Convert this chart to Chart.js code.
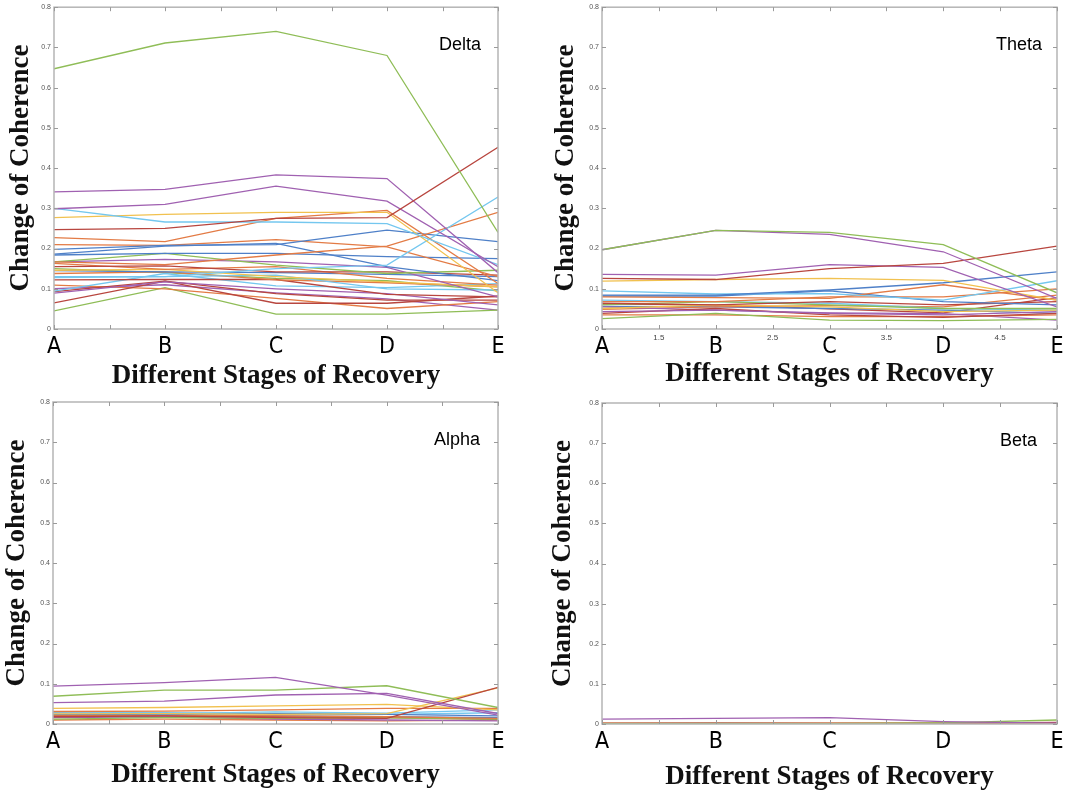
<!DOCTYPE html>
<html>
<head>
<meta charset="utf-8">
<script src="https://cdn.jsdelivr.net/npm/chart.js@4/dist/chart.umd.min.js"></script>
<style>
  html, body { margin: 0; padding: 0; background: #ffffff; }
  body { width: 1084px; height: 793px; position: relative; overflow: hidden; }
  canvas { position: absolute; display: block; }
</style>
</head>
<body>
<canvas id="c0"></canvas>
<canvas id="c1"></canvas>
<canvas id="c2"></canvas>
<canvas id="c3"></canvas>
<script>
// ---------------- data ----------------
const stages = ['A', 'B', 'C', 'D', 'E'];
const stageX = [1, 2, 3, 4, 5];
const halfTickLabels = ['1.5', '2.5', '3.5', '4.5'];
const panelNames = ['Delta', 'Theta', 'Alpha', 'Beta'];
const xAxisTitle = 'Different Stages of Recovery';
const yAxisTitle = 'Change of Coherence';

const palette = {
  blue: '#4f80c8', orange: '#e37b45', yellow: '#f1c14f', purple: '#a061b1',
  green: '#8fbd57', lightblue: '#74c7ef', darkred: '#b8463f'
};

const deltaColors = ['green','darkred','purple','purple','lightblue','yellow','orange','lightblue','orange','blue',
  'blue','orange','blue','green','purple','darkred','orange','yellow','blue','lightblue',
  'orange','darkred','purple','lightblue','darkred','darkred','orange','green','purple','green'];
const deltaValues = [
  [0.647, 0.711, 0.740, 0.680, 0.240],
  [0.247, 0.250, 0.275, 0.277, 0.452],
  [0.341, 0.347, 0.383, 0.374, 0.140],
  [0.299, 0.310, 0.355, 0.318, 0.155],
  [0.300, 0.266, 0.266, 0.262, 0.160],
  [0.277, 0.285, 0.290, 0.290, 0.090],
  [0.227, 0.217, 0.275, 0.295, 0.113],
  [0.128, 0.130, 0.150, 0.159, 0.328],
  [0.167, 0.160, 0.184, 0.206, 0.290],
  [0.198, 0.208, 0.210, 0.246, 0.217],
  [0.186, 0.206, 0.213, 0.155, 0.120],
  [0.210, 0.208, 0.222, 0.204, 0.130],
  [0.184, 0.188, 0.188, 0.180, 0.175],
  [0.167, 0.188, 0.159, 0.138, 0.146],
  [0.167, 0.173, 0.167, 0.153, 0.080],
  [0.155, 0.157, 0.142, 0.142, 0.134],
  [0.163, 0.148, 0.155, 0.126, 0.109],
  [0.146, 0.148, 0.130, 0.117, 0.105],
  [0.145, 0.142, 0.140, 0.136, 0.130],
  [0.130, 0.130, 0.134, 0.100, 0.097],
  [0.138, 0.142, 0.122, 0.115, 0.105],
  [0.122, 0.123, 0.123, 0.086, 0.080],
  [0.089, 0.117, 0.100, 0.088, 0.060],
  [0.094, 0.138, 0.107, 0.103, 0.113],
  [0.093, 0.119, 0.088, 0.072, 0.072],
  [0.065, 0.119, 0.064, 0.064, 0.082],
  [0.109, 0.100, 0.076, 0.051, 0.068],
  [0.045, 0.103, 0.037, 0.037, 0.047],
  [0.100, 0.110, 0.090, 0.075, 0.047],
  [0.150, 0.140, 0.126, 0.120, 0.095]
];

const thetaColors = ['green','purple','darkred','purple','yellow','blue','lightblue','orange','blue','orange',
  'darkred','green','yellow','purple','darkred','green','orange','lightblue','purple','orange','blue','darkred'];
const thetaValues = [
  [0.197, 0.245, 0.240, 0.210, 0.090],
  [0.197, 0.245, 0.235, 0.192, 0.076],
  [0.126, 0.123, 0.150, 0.163, 0.206],
  [0.136, 0.134, 0.160, 0.153, 0.055],
  [0.119, 0.123, 0.126, 0.121, 0.072],
  [0.084, 0.084, 0.097, 0.115, 0.142],
  [0.095, 0.087, 0.088, 0.072, 0.120],
  [0.080, 0.078, 0.076, 0.110, 0.072],
  [0.082, 0.082, 0.095, 0.068, 0.060],
  [0.068, 0.068, 0.080, 0.080, 0.100],
  [0.064, 0.060, 0.068, 0.060, 0.068],
  [0.060, 0.068, 0.060, 0.051, 0.051],
  [0.051, 0.060, 0.055, 0.043, 0.047],
  [0.043, 0.047, 0.039, 0.035, 0.043],
  [0.039, 0.051, 0.035, 0.029, 0.039],
  [0.026, 0.039, 0.022, 0.021, 0.024],
  [0.035, 0.035, 0.031, 0.031, 0.035],
  [0.072, 0.068, 0.064, 0.051, 0.047],
  [0.055, 0.047, 0.040, 0.038, 0.022],
  [0.049, 0.055, 0.058, 0.055, 0.084],
  [0.056, 0.055, 0.051, 0.047, 0.039],
  [0.062, 0.060, 0.050, 0.040, 0.078]
];

const alphaColors = ['purple','green','purple','darkred','yellow','yellow','orange','lightblue','blue','orange',
  'green','purple','darkred','lightblue','blue','orange'];
const alphaValues = [
  [0.094, 0.103, 0.116, 0.072, 0.022],
  [0.069, 0.084, 0.084, 0.095, 0.041],
  [0.053, 0.057, 0.072, 0.076, 0.026],
  [0.018, 0.020, 0.016, 0.014, 0.091],
  [0.025, 0.026, 0.024, 0.026, 0.090],
  [0.039, 0.041, 0.045, 0.049, 0.035],
  [0.031, 0.032, 0.035, 0.039, 0.039],
  [0.028, 0.026, 0.030, 0.027, 0.035],
  [0.024, 0.024, 0.026, 0.024, 0.020],
  [0.020, 0.022, 0.020, 0.018, 0.014],
  [0.012, 0.016, 0.014, 0.015, 0.012],
  [0.016, 0.018, 0.012, 0.010, 0.008],
  [0.022, 0.020, 0.018, 0.016, 0.012],
  [0.030, 0.028, 0.026, 0.024, 0.028],
  [0.020, 0.018, 0.020, 0.018, 0.016],
  [0.010, 0.012, 0.010, 0.008, 0.010]
];

const betaColors = ['purple','green','darkred','orange','yellow','blue'];
const betaValues = [
  [0.012, 0.014, 0.016, 0.006, 0.002],
  [0.001, 0.001, 0.001, 0.003, 0.010],
  [0.002, 0.002, 0.002, 0.002, 0.004],
  [0.001, 0.001, 0.001, 0.001, 0.002],
  [0.002, 0.002, 0.002, 0.002, 0.001],
  [0.001, 0.002, 0.001, 0.001, 0.001]
];

// ---------------- layout (page pixels) ----------------
const panels = [
  { id: 'c0', name: panelNames[0], values: deltaValues, colors: deltaColors, halfLabels: false,
    cx: 0, cy: 0, cw: 542, ch: 392, L: 54, T: 6, R: 498, B: 329, yPad: 5, xPadB: 0, nameInset: 17 },
  { id: 'c1', name: panelNames[1], values: thetaValues, colors: thetaColors, halfLabels: true,
    cx: 542, cy: 0, cw: 542, ch: 392, L: 602, T: 6, R: 1057, B: 329, yPad: 8, xPadB: 2, nameInset: 15 },
  { id: 'c2', name: panelNames[2], values: alphaValues, colors: alphaColors, halfLabels: false,
    cx: 0, cy: 392, cw: 542, ch: 401, L: 53, T: 402, R: 498, B: 724, yPad: 1, xPadB: 2, nameInset: 18 },
  { id: 'c3', name: panelNames[3], values: betaValues, colors: betaColors, halfLabels: false,
    cx: 542, cy: 392, cw: 542, ch: 401, L: 602, T: 403, R: 1057, B: 724, yPad: 5, xPadB: 0, nameInset: 20 }
];

const serifBold = { family: '"Liberation Serif", "Times New Roman", serif', size: 27, weight: 'bold' };
const narrowSans = '"Liberation Sans Narrow", "DejaVu Sans Condensed", "Liberation Sans", sans-serif';
const bigTickFont = { family: narrowSans, size: 23 };
const smallTickFont = { family: '"Liberation Sans", sans-serif', size: 8 };

const framePlugin = {
  id: 'frame',
  afterDatasetsDraw(chart, args, opts) {
    const { ctx, chartArea: a } = chart;
    const xs = chart.scales.x, ys = chart.scales.y;
    ctx.save();
    ctx.strokeStyle = '#b5b5b5';
    ctx.lineWidth = 1.5;
    ctx.strokeRect(a.left, a.top, a.right - a.left, a.bottom - a.top);
    ctx.strokeStyle = '#9a9a9a';
    ctx.lineWidth = 1;
    ctx.beginPath();
    xs.ticks.forEach(t => {
      const px = Math.round(xs.getPixelForValue(t.value)) + 0.5;
      ctx.moveTo(px, a.bottom); ctx.lineTo(px, a.bottom - 4);
      ctx.moveTo(px, a.top); ctx.lineTo(px, a.top + 4);
    });
    ys.ticks.forEach(t => {
      const py = Math.round(ys.getPixelForValue(t.value)) + 0.5;
      ctx.moveTo(a.left, py); ctx.lineTo(a.left + 4, py);
      ctx.moveTo(a.right, py); ctx.lineTo(a.right - 4, py);
    });
    ctx.stroke();
    ctx.fillStyle = '#000';
    ctx.font = '18px "Liberation Sans", Arial, sans-serif';
    ctx.textAlign = 'right';
    ctx.textBaseline = 'middle';
    ctx.fillText(opts.name, a.right - opts.inset, ys.getPixelForValue(0.705));
    ctx.restore();
  }
};

function isWhole(v) { return Math.abs(v - Math.round(v)) < 1e-6; }
function tickIsWhole(c) { return !c || !c.tick ? true : isWhole(c.tick.value); }

panels.forEach(p => {
  const canvas = document.getElementById(p.id);
  canvas.width = p.cw; canvas.height = p.ch;
  canvas.style.left = p.cx + 'px'; canvas.style.top = p.cy + 'px';
  canvas.style.width = p.cw + 'px'; canvas.style.height = p.ch + 'px';

  const datasets = p.values.map((vals, i) => ({
    data: vals.map((v, j) => ({ x: stageX[j], y: v })),
    borderColor: palette[p.colors[i]],
    borderWidth: 1.3,
    pointRadius: 0,
    tension: 0,
    fill: false
  }));

  new Chart(canvas, {
    type: 'line',
    data: { datasets },
    options: {
      responsive: false,
      animation: false,
      devicePixelRatio: 1,
      layout: { padding: { top: p.T - p.cy, right: p.cx + p.cw - p.R, left: 0, bottom: 0 } },
      plugins: {
        legend: { display: false },
        tooltip: { enabled: false },
        frame: { name: p.name, inset: p.nameInset }
      },
      scales: {
        x: {
          type: 'linear', min: 1, max: 5,
          grid: { display: false, drawTicks: false },
          border: { display: false },
          ticks: {
            stepSize: 0.5, autoSkip: false, maxRotation: 0, minRotation: 0, padding: 4,
            color: c => tickIsWhole(c) ? '#000' : '#444',
            font: c => tickIsWhole(c) ? bigTickFont : smallTickFont,
            callback: v => isWhole(v) ? stages[Math.round(v) - 1]
              : (p.halfLabels ? halfTickLabels[Math.floor(v) - 1] : '')
          },
          title: { display: true, text: xAxisTitle, font: serifBold, color: '#111', padding: { top: 0, bottom: p.xPadB } },
          afterFit: s => { s.height = p.cy + p.ch - p.B; }
        },
        y: {
          min: 0, max: 0.8,
          grid: { display: false, drawTicks: false },
          border: { display: false },
          ticks: {
            stepSize: 0.1, padding: 3, color: '#555',
            font: { family: '"Liberation Sans", sans-serif', size: 7 },
            callback: v => Math.abs(v) < 1e-9 ? '0' : v.toFixed(1)
          },
          title: { display: true, text: yAxisTitle, font: serifBold, color: '#111', padding: { top: p.yPad, bottom: 0 } },
          afterFit: s => { s.width = p.L - p.cx; }
        }
      }
    },
    plugins: [framePlugin]
  });
});
</script>
</body>
</html>
